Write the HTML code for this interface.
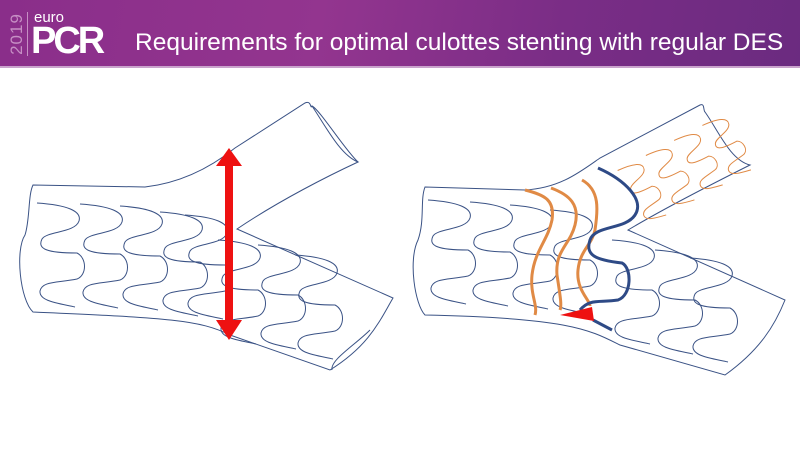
<!DOCTYPE html>
<html><head><meta charset="utf-8"><style>
body{margin:0;width:800px;height:450px;background:#fff;overflow:hidden;font-family:"Liberation Sans",sans-serif;position:relative}
.hdr{position:absolute;left:0;top:0;width:800px;height:66px;background:linear-gradient(100deg,#8a2e8a 0%,#93358f 40%,#7a2d86 70%,#6b2b80 100%)}
.line{position:absolute;left:0;top:66px;width:800px;height:2px;background:#c9a3cc}
.yr{position:absolute;left:-4px;top:24px;transform:rotate(-90deg);color:#c68fc4;font-size:17px;letter-spacing:1px}
.bar{position:absolute;left:27px;top:12px;width:1px;height:44px;background:#c68fc4}
.euro{position:absolute;left:34px;top:9px;color:#fff;font-size:15px}
.pcr{position:absolute;left:31px;top:20px;color:#fff;font-size:38px;font-weight:bold;letter-spacing:-3px}
.title{position:absolute;left:135px;top:29px;color:#fff;font-size:24.5px;white-space:nowrap}
</style></head><body>
<div class="hdr"></div><div class="line"></div>
<div class="yr">2019</div><div class="bar"></div>
<div class="euro">euro</div><div class="pcr">PCR</div>
<div class="title">Requirements for optimal culottes stenting with regular DES</div>
<svg width="800" height="450" style="position:absolute;left:0;top:0">
<defs>
<path id="col" d="M0,0 C30,2 45,8 42,18 C38,30 10,28 5,36 C0,46 10,50 40,50 C50,55 50,72 40,76 C20,80 5,78 3,88 C2,98 20,100 38,104" fill="none" stroke="#3a5285" stroke-width="1"/>
<path id="ocol" d="M0,0 C18,1 26,5 24,11 C22,18 6,17 3,22 C0,28 6,30 23,30 C29,33 29,43 23,45 C12,47 3,46 2,52 C1,58 12,60 22,62" fill="none" stroke="#e08a45" stroke-width="1"/>
</defs>
<g fill="none" stroke="#3a5285" stroke-width="1">
<path d="M33,185 L145,187 C180,183 210,168 235,148 L305,103 C312,100 310,110 312,106 C325,125 340,155 358,162 C330,175 280,200 237,229 L393,298 C380,320 370,345 330,370 L230,335 C200,320 170,318 33,312 C20,300 15,250 25,235 C30,220 28,195 33,185 Z"/>
<path d="M312,106 C320,110 345,150 358,162"/>
<path d="M370,330 C355,345 330,360 332,370"/>
</g>
<g>
<use href="#col" x="37" y="203"/><use href="#col" x="80" y="204"/><use href="#col" x="120" y="206"/><use href="#col" x="160" y="212"/><use href="#col" x="185" y="215"/>
<use href="#col" x="218" y="240"/><use href="#col" x="258" y="245"/><use href="#col" x="295" y="255"/>
</g>
<path d="M229,148 L242,166 L233,166 L233,320 L242,320 L229,340 L216,320 L225,320 L225,166 L216,166 Z" fill="#ee1111"/>
<g fill="none" stroke="#3a5285" stroke-width="1">
<path d="M425,187 L525,190 C560,188 580,172 600,158 L700,105 C705,103 703,110 705,112 C718,130 730,160 750,165 C720,180 670,205 628,230 L785,300 C775,325 760,350 725,375 L620,345 C590,330 570,318 425,315 C415,305 408,260 418,240 C425,220 420,200 425,187 Z"/>
</g>
<g>
<use href="#col" x="428" y="200"/><use href="#col" x="470" y="202"/><use href="#col" x="510" y="205"/><use href="#col" x="550" y="210"/>
<use href="#col" x="612" y="240"/><use href="#col" x="655" y="250"/><use href="#col" x="690" y="258"/>
</g>
<g transform="rotate(-28 680 160)">
<use href="#ocol" x="620" y="140"/><use href="#ocol" x="652" y="140"/><use href="#ocol" x="684" y="140"/><use href="#ocol" x="716" y="140"/>
</g>
<g fill="none" stroke="#e08a45" stroke-width="3">
<path d="M525,190 C545,195 555,200 552,220 C548,240 535,250 532,275 C530,295 538,305 535,315"/>
<path d="M551,188 C570,195 580,205 575,225 C570,245 555,250 557,275 C560,295 562,305 560,310"/>
<path d="M582,180 C600,190 598,210 595,230 C592,245 580,250 578,270 C576,290 590,300 590,306"/>
</g>
<g fill="none" stroke="#2e4a86" stroke-width="3">
<path d="M598,168 C625,180 645,200 635,215 C625,230 595,225 590,240 C585,255 595,260 622,263 C632,268 632,295 618,300 C600,303 590,298 580,310"/>
<path d="M593,320 L612,330"/>
</g>
<path d="M560,315 L592,307 L594,321 Z" fill="#ee1111"/>
</svg>
</body></html>
